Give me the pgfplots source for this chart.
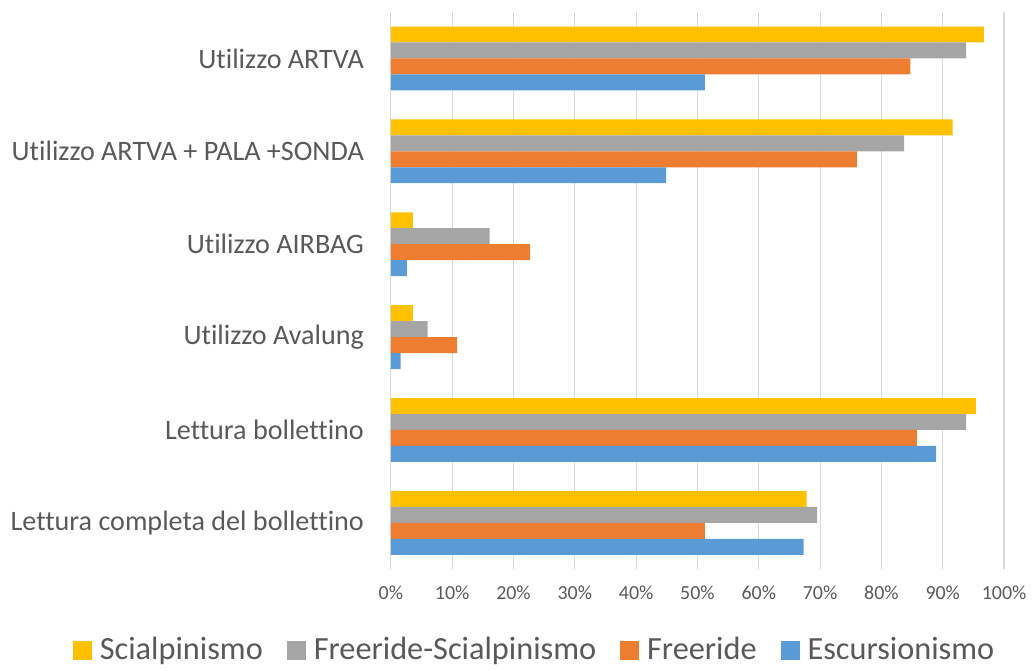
\documentclass[border=0pt]{standalone}
\usepackage{fontspec}
\setmainfont{Carlito}[Ligatures=NoCommon]
\usepackage{pgfplots}
\pgfplotsset{compat=1.18}
\definecolor{cYel}{HTML}{FFC000}
\definecolor{cGry}{HTML}{A5A5A5}
\definecolor{cOrg}{HTML}{ED7D31}
\definecolor{cBlu}{HTML}{5B9BD5}
\definecolor{txt}{HTML}{595959}
\definecolor{grd}{HTML}{D9D9D9}
\begin{document}
\begin{tikzpicture}
\begin{axis}[
  name=ax,
  scale only axis,
  width=307.5pt, height=279.5pt,
  xbar, bar width=8pt,
  xmin=0, xmax=100,
  ymin=-0.5, ymax=5.5,
  xtick={0,10,...,100},
  xticklabels={0\%,10\%,20\%,30\%,40\%,50\%,60\%,70\%,80\%,90\%,100\%},
  ytick={0,1,2,3,4,5},
  yticklabels={Lettura completa del bollettino, Lettura bollettino, Utilizzo Avalung,
    Utilizzo AIRBAG, Utilizzo ARTVA + PALA +SONDA, Utilizzo ARTVA},
  xticklabel style={font=\fontsize{10}{12}\selectfont, text=txt, yshift=-5pt},
  yticklabel style={font=\fontsize{14.1}{17}\selectfont, text=txt, xshift=-10pt},
  major tick length=0pt,
  xmajorgrids=true, grid style={draw=grd, line width=0.6pt},
  axis line style={draw=none},
  legend columns=4,
  legend style={draw=none, at={(0.236,-0.145)}, anchor=center,
    font=\fontsize{16.2}{19}\selectfont, text=txt,
    /tikz/every odd column/.append style={column sep=2pt},
    /tikz/every even column/.append style={column sep=10pt}},
  legend image code/.code={\fill (0pt,-5pt) rectangle (9.5pt,4.5pt);},
  clip=false]
\addplot[fill=cYel, draw=none, bar shift=12pt]
  coordinates {(96.7,5) (91.6,4) (3.6,3) (3.6,2) (95.4,1) (67.8,0)};
\addplot[fill=cGry, draw=none, bar shift=4pt]
  coordinates {(93.8,5) (83.7,4) (16.1,3) (6.0,2) (93.8,1) (69.5,0)};
\addplot[fill=cOrg, draw=none, bar shift=-4pt]
  coordinates {(84.7,5) (76.0,4) (22.7,3) (10.8,2) (85.8,1) (51.2,0)};
\addplot[fill=cBlu, draw=none, bar shift=-12pt]
  coordinates {(51.2,5) (44.9,4) (2.6,3) (1.6,2) (88.9,1) (67.3,0)};
\legend{Scialpinismo, Freeride-Scialpinismo, Freeride, Escursionismo}
\end{axis}
\path[use as bounding box] ([xshift=-196pt,yshift=-48pt]ax.south west)
  rectangle ([xshift=13pt,yshift=6pt]ax.north east);
\end{tikzpicture}
\end{document}
